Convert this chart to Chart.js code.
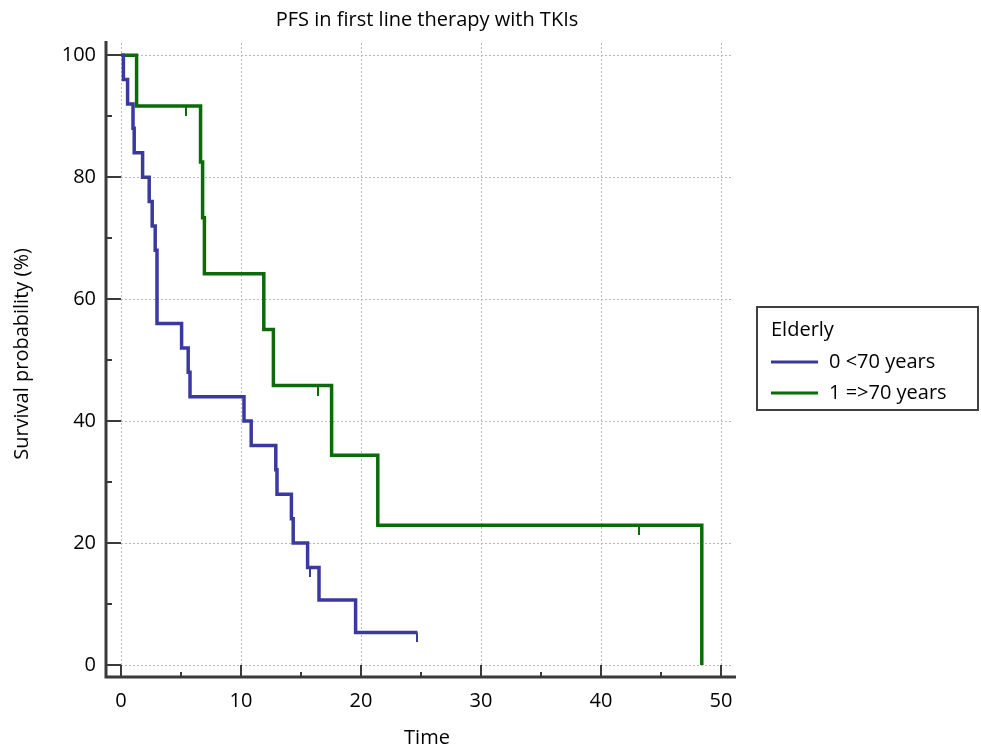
<!DOCTYPE html>
<html>
<head>
<meta charset="utf-8">
<title>PFS in first line therapy with TKIs</title>
<script src="https://cdn.jsdelivr.net/npm/chart.js@4.4.0/dist/chart.umd.min.js"></script>
<style>
  html, body { margin: 0; padding: 0; background: #fff; }
  #wrap { position: relative; width: 981px; height: 752px; }
</style>
</head>
<body>
<div id="wrap"><canvas id="kmChart"></canvas></div>
<script>
const chartTitle = 'PFS in first line therapy with TKIs';
const legendTitle = 'Elderly';
const groupLabels = ['0 <70 years', '1 =>70 years'];
const groupColors = ['#3a3a9e', '#0b6b0b'];

// event times and survival (%) right after each event
const youngTime = [0, 0.2, 0.55, 1.0, 1.1, 1.8, 2.35, 2.6, 2.85, 3.0, 5.05, 5.6, 5.75, 10.25, 10.85, 12.9, 13.0, 14.2, 14.35, 15.55, 16.5, 19.55, 24.7];
const youngSurv = [100, 96, 92, 88, 84, 80, 76, 72, 68, 56, 52, 48, 44, 40, 36, 32, 28, 24, 20, 16, 10.67, 5.33, 5.33];
const youngCensTime = [15.75, 24.7];
const youngCensSurv = [16, 5.33];

const elderTime = [0, 1.3, 6.63, 6.8, 6.95, 11.9, 12.7, 17.55, 21.4, 48.4];
const elderSurv = [100, 91.67, 82.5, 73.33, 64.17, 55.0, 45.83, 34.38, 22.92, 0];
const elderCensTime = [5.45, 16.4, 43.2];
const elderCensSurv = [91.67, 45.83, 22.92];

const xTicks = [0, 10, 20, 30, 40, 50];
const xMinor = [5, 15, 25, 35, 45];
const yTicks = [0, 20, 40, 60, 80, 100];
const yMinor = [10, 30, 50, 70, 90];

const FONT = "'Open Sans', 'Noto Sans', sans-serif";

function toPoints(xs, ys) {
  return xs.map((t, i) => ({ x: t, y: ys[i] }));
}

// little downward tick used as censoring mark (image is drawn centred on the point)
function censorMark(color) {
  const c = document.createElement('canvas');
  c.width = 2;
  c.height = 20;
  const g = c.getContext('2d');
  g.fillStyle = color;
  g.fillRect(0, 10, 2, 10);
  return c;
}

function curve(label, xs, ys, color) {
  return {
    label: label,
    data: toPoints(xs, ys),
    showLine: true,
    stepped: 'before',
    borderColor: color,
    backgroundColor: color,
    borderWidth: 3.5,
    pointRadius: 0,
    fill: false
  };
}

function censors(xs, ys, color) {
  return {
    label: '',
    data: toPoints(xs, ys),
    showLine: false,
    pointStyle: censorMark(color),
    pointRadius: 5
  };
}

// detached axes, chart title and boxed legend
const frame = {
  id: 'frame',
  afterDraw(chart) {
    const { ctx, chartArea: a, scales: { x, y } } = chart;
    const axX = a.left - 15;
    const axY = a.bottom + 12;
    ctx.save();
    ctx.strokeStyle = '#3a3a3a';
    ctx.lineCap = 'butt';

    ctx.lineWidth = 3;
    ctx.beginPath();
    ctx.moveTo(axX, a.top - 2);
    ctx.lineTo(axX, axY + 1.5);
    ctx.moveTo(axX - 1.5, axY);
    ctx.lineTo(a.right + 3, axY);
    ctx.stroke();

    ctx.lineWidth = 2;
    ctx.beginPath();
    yTicks.forEach(v => {
      const py = Math.round(y.getPixelForValue(v));
      ctx.moveTo(axX, py);
      ctx.lineTo(a.left, py);
    });
    yMinor.forEach(v => {
      const py = Math.round(y.getPixelForValue(v));
      ctx.moveTo(axX, py);
      ctx.lineTo(axX + 6, py);
    });
    xTicks.forEach(v => {
      const px = Math.round(x.getPixelForValue(v));
      ctx.moveTo(px, axY);
      ctx.lineTo(px, a.bottom);
    });
    xMinor.forEach(v => {
      const px = Math.round(x.getPixelForValue(v));
      ctx.moveTo(px, axY);
      ctx.lineTo(px, axY - 5);
    });
    ctx.stroke();

    ctx.fillStyle = '#000';
    ctx.font = '20px ' + FONT;
    ctx.textAlign = 'center';
    ctx.textBaseline = 'middle';
    ctx.fillText(chartTitle, (a.left + a.right) / 2, 20);

    // legend
    const lx = a.right + 24;
    const ly = a.top + 264;
    ctx.lineWidth = 2;
    ctx.strokeStyle = '#404040';
    ctx.strokeRect(lx, ly, 221, 103);
    ctx.font = '20px ' + FONT;
    ctx.textAlign = 'left';
    ctx.fillText(legendTitle, lx + 14, ly + 23);
    groupLabels.forEach((lab, i) => {
      const rowY = ly + 55 + i * 31;
      ctx.strokeStyle = groupColors[i];
      ctx.lineWidth = 3;
      ctx.beginPath();
      ctx.moveTo(lx + 14, rowY);
      ctx.lineTo(lx + 61, rowY);
      ctx.stroke();
      ctx.fillText(lab, lx + 72, rowY);
    });
    ctx.restore();
  }
};

const gridStyle = { color: '#b8b8b8', lineWidth: 1, drawTicks: false };

const config = {
  type: 'scatter',
  data: {
    datasets: [
      curve(groupLabels[0], youngTime, youngSurv, groupColors[0]),
      curve(groupLabels[1], elderTime, elderSurv, groupColors[1]),
      censors(youngCensTime, youngCensSurv, groupColors[0]),
      censors(elderCensTime, elderCensSurv, groupColors[1])
    ]
  },
  options: {
    responsive: true,
    maintainAspectRatio: false,
    animation: false,
    events: [],
    layout: { padding: { left: 0, top: 43, right: 248, bottom: 0 } },
    plugins: {
      legend: { display: false },
      title: { display: false },
      tooltip: { enabled: false }
    },
    scales: {
      x: {
        type: 'linear',
        min: 0,
        max: 51,
        afterBuildTicks: s => { s.ticks = xTicks.map(v => ({ value: v })); },
        afterFit: s => { s.height = 87; },
        grid: gridStyle,
        border: { display: false, dash: [2, 2] },
        ticks: { padding: 24, color: '#000', font: { family: FONT, size: 20 } },
        title: { display: true, text: 'Time', color: '#000', padding: { top: 0, bottom: 2 }, font: { family: FONT, size: 20 } }
      },
      y: {
        type: 'linear',
        min: 0,
        max: 102,
        afterBuildTicks: s => { s.ticks = yTicks.map(v => ({ value: v })); },
        afterFit: s => { s.width = 121; },
        grid: gridStyle,
        border: { display: false, dash: [2, 2] },
        ticks: { padding: 25, color: '#000', font: { family: FONT, size: 20 } },
        title: { display: true, text: 'Survival probability (%)', color: '#000', padding: { top: 10, bottom: 0 }, font: { family: FONT, size: 20 } }
      }
    }
  },
  plugins: [frame]
};

const kmChart = new Chart(document.getElementById('kmChart'), config);
</script>
</body>
</html>
